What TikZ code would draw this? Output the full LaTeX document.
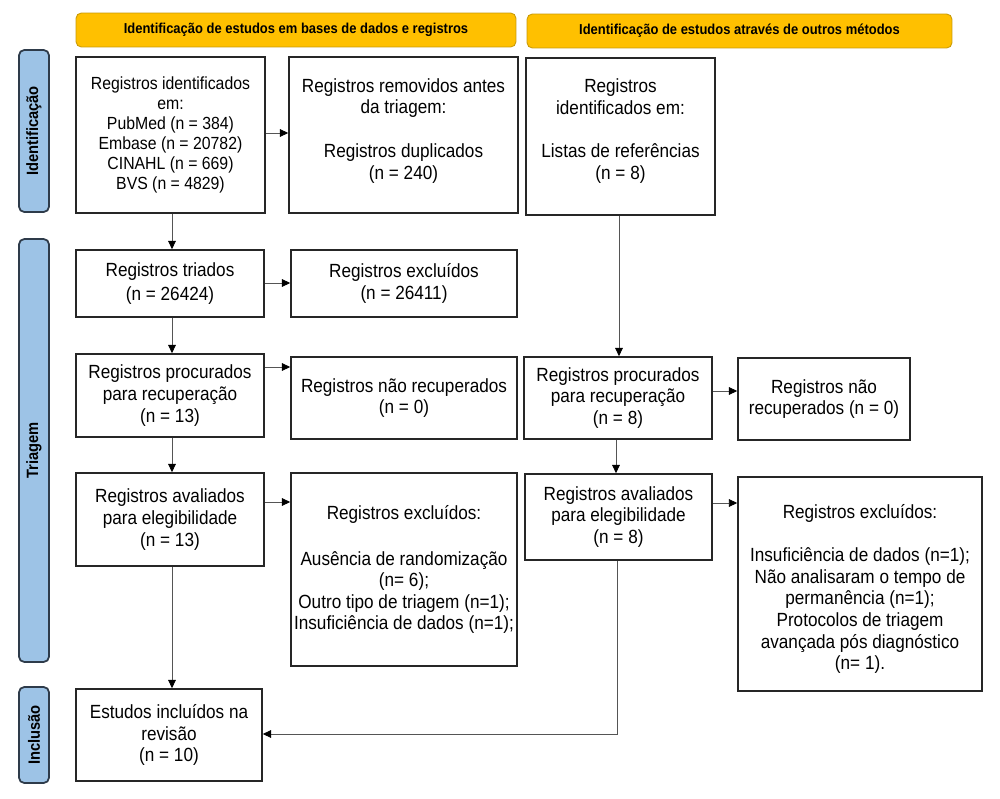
\documentclass[tikz,border=0pt]{standalone}
\usepackage{fontspec}
\setmainfont[FakeStretch=0.9]{Liberation Sans}
\usetikzlibrary{arrows.meta}

\definecolor{ouro}{HTML}{FFC000}
\definecolor{ourobordo}{HTML}{C99A06}
\definecolor{azulfase}{HTML}{9DC3E6}
\definecolor{azulbordo}{HTML}{2E3B4A}
\definecolor{cinzalinha}{HTML}{555555}

\tikzset{
  caixa/.style={draw=black!85, line width=0.9pt, align=center, inner sep=1pt,
    font=\fontsize{10.85}{12.3}\selectfont},
  cabecalho/.style={draw=ourobordo, fill=ouro, line width=0.5pt, rounded corners=3pt,
    font=\bfseries\fontsize{8.2}{9}\selectfont, minimum height=0.68cm},
  fase/.style={draw=azulbordo, fill=azulfase, line width=1pt, rounded corners=3pt,
    rotate=90, font=\bfseries\fontsize{9.3}{10}\selectfont, minimum height=0.6cm},
  seta/.style={draw=cinzalinha, line width=0.5pt, -{Triangle[length=4.8pt,width=4.4pt,black]}},
  linha/.style={draw=cinzalinha, line width=0.5pt}
}

\begin{document}
\begin{tikzpicture}[x=0.02cm,y=-0.02cm]

  % Margens
  \useasboundingbox (0,0) rectangle (1000,798);

  % Cabecalhos
  \node[cabecalho, minimum width=8.8cm] (cabA) at (296,30) {Identificação de estudos em bases de dados e registros};
  \node[cabecalho, minimum width=8.5cm] (cabB) at (739.5,31) {Identificação de estudos através de outros métodos};

  % Fases
  \node[fase, minimum width=3.24cm] (faseId) at (34,131) {Identificação};
  \node[fase, minimum width=8.46cm] (faseTri) at (34,450.5) {Triagem};
  \node[fase, minimum width=1.92cm] (faseInc) at (34,735) {Inclusão};

  % Coluna das bases de dados
  \node[caixa, font=\fontsize{10}{11.45}\selectfont, minimum width=3.78cm, minimum height=3.12cm] (ident) at (170.5,135)
    {Registros identificados\\em:\\PubMed (n = 384)\\Embase (n = 20782)\\CINAHL (n = 669)\\BVS (n = 4829)};
  \node[caixa, minimum width=4.58cm, minimum height=3.12cm] (removidos) at (403.5,135)
    {Registros removidos antes\\da triagem:\\[12.6pt]Registros duplicados\\(n = 240)\rule[-7pt]{0pt}{0pt}};
  \node[caixa, minimum width=3.76cm, minimum height=1.34cm] (triados) at (170,283.5)
    {Registros triados\\[1.3pt](n = 26424)};
  \node[caixa, minimum width=4.52cm, minimum height=1.34cm] (excluidos) at (404,283.5)
    {Registros excluídos\\(n = 26411)};
  \node[caixa, minimum width=3.76cm, minimum height=1.66cm] (procA) at (170,395.5)
    {Registros procurados\\para recuperação\\(n = 13)};
  \node[caixa, minimum width=4.52cm, minimum height=1.64cm] (naoRecA) at (404,398)
    {Registros não recuperados\\(n = 0)};
  \node[caixa, minimum width=3.76cm, minimum height=1.86cm] (avalA) at (170,519.5)
    {Registros avaliados\\para elegibilidade\\(n = 13)};
  \node[caixa, minimum width=4.52cm, minimum height=3.86cm] (exclA) at (404,569.5)
    {Registros excluídos:\\[13.8pt]Ausência de randomização\\(n= 6);\\Outro tipo de triagem (n=1);\\Insuficiência de dados (n=1);};
  \node[caixa, minimum width=3.72cm, minimum height=1.84cm] (incluidos) at (169,735)
    {Estudos incluídos na\\revisão\\(n = 10)};

  % Coluna de outros metodos
  \node[caixa, minimum width=3.78cm, minimum height=3.14cm] (identB) at (620.5,136.5)
    {Registros\\identificados em:\\[12.6pt]Listas de referências\\(n = 8)\rule[-8.5pt]{0pt}{0pt}};
  \node[caixa, minimum width=3.76cm, minimum height=1.64cm] (procB) at (618,398)
    {Registros procurados\\para recuperação\\(n = 8)};
  \node[caixa, minimum width=3.44cm, minimum height=1.64cm] (naoRecB) at (824,399)
    {Registros não\\recuperados (n = 0)};
  \node[caixa, minimum width=3.74cm, minimum height=1.72cm] (avalB) at (618.5,517)
    {Registros avaliados\\para elegibilidade\\(n = 8)};
  \node[caixa, minimum width=4.88cm, minimum height=4.28cm] (exclB) at (860,584)
    {\rule{0pt}{14pt}Registros excluídos:\\[12pt]Insuficiência de dados (n=1);\\Não analisaram o tempo de\\permanência (n=1);\\Protocolos de triagem\\avançada pós diagnóstico\\(n= 1).};

  % Setas
  \draw[seta] (ident.east |- 0,133) -- (removidos.west |- 0,133);
  \draw[seta] (ident.south -| 172,0) -- (triados.north -| 172,0);
  \draw[seta] (triados.east |- 0,283) -- (excluidos.west |- 0,283);
  \draw[seta] (triados.south -| 172,0) -- (procA.north -| 172,0);
  \draw[seta] (procA.east |- 0,367) -- (naoRecA.west |- 0,367);
  \draw[seta] (procA.south -| 172,0) -- (avalA.north -| 172,0);
  \draw[seta] (avalA.east |- 0,502) -- (exclA.west |- 0,502);
  \draw[seta] (avalA.south -| 172,0) -- (incluidos.north -| 172,0);

  \draw[seta] (identB.south -| 619,0) -- (procB.north -| 619,0);
  \draw[seta] (procB.east |- 0,391) -- (naoRecB.west |- 0,391);
  \draw[seta] (procB.south -| 616,0) -- (avalB.north -| 616,0);
  \draw[seta] (avalB.east |- 0,503) -- (exclB.west |- 0,503);
  \draw[seta] (avalB.south -| 617,0) |- (incluidos.east |- 0,734);

\end{tikzpicture}
\end{document}
